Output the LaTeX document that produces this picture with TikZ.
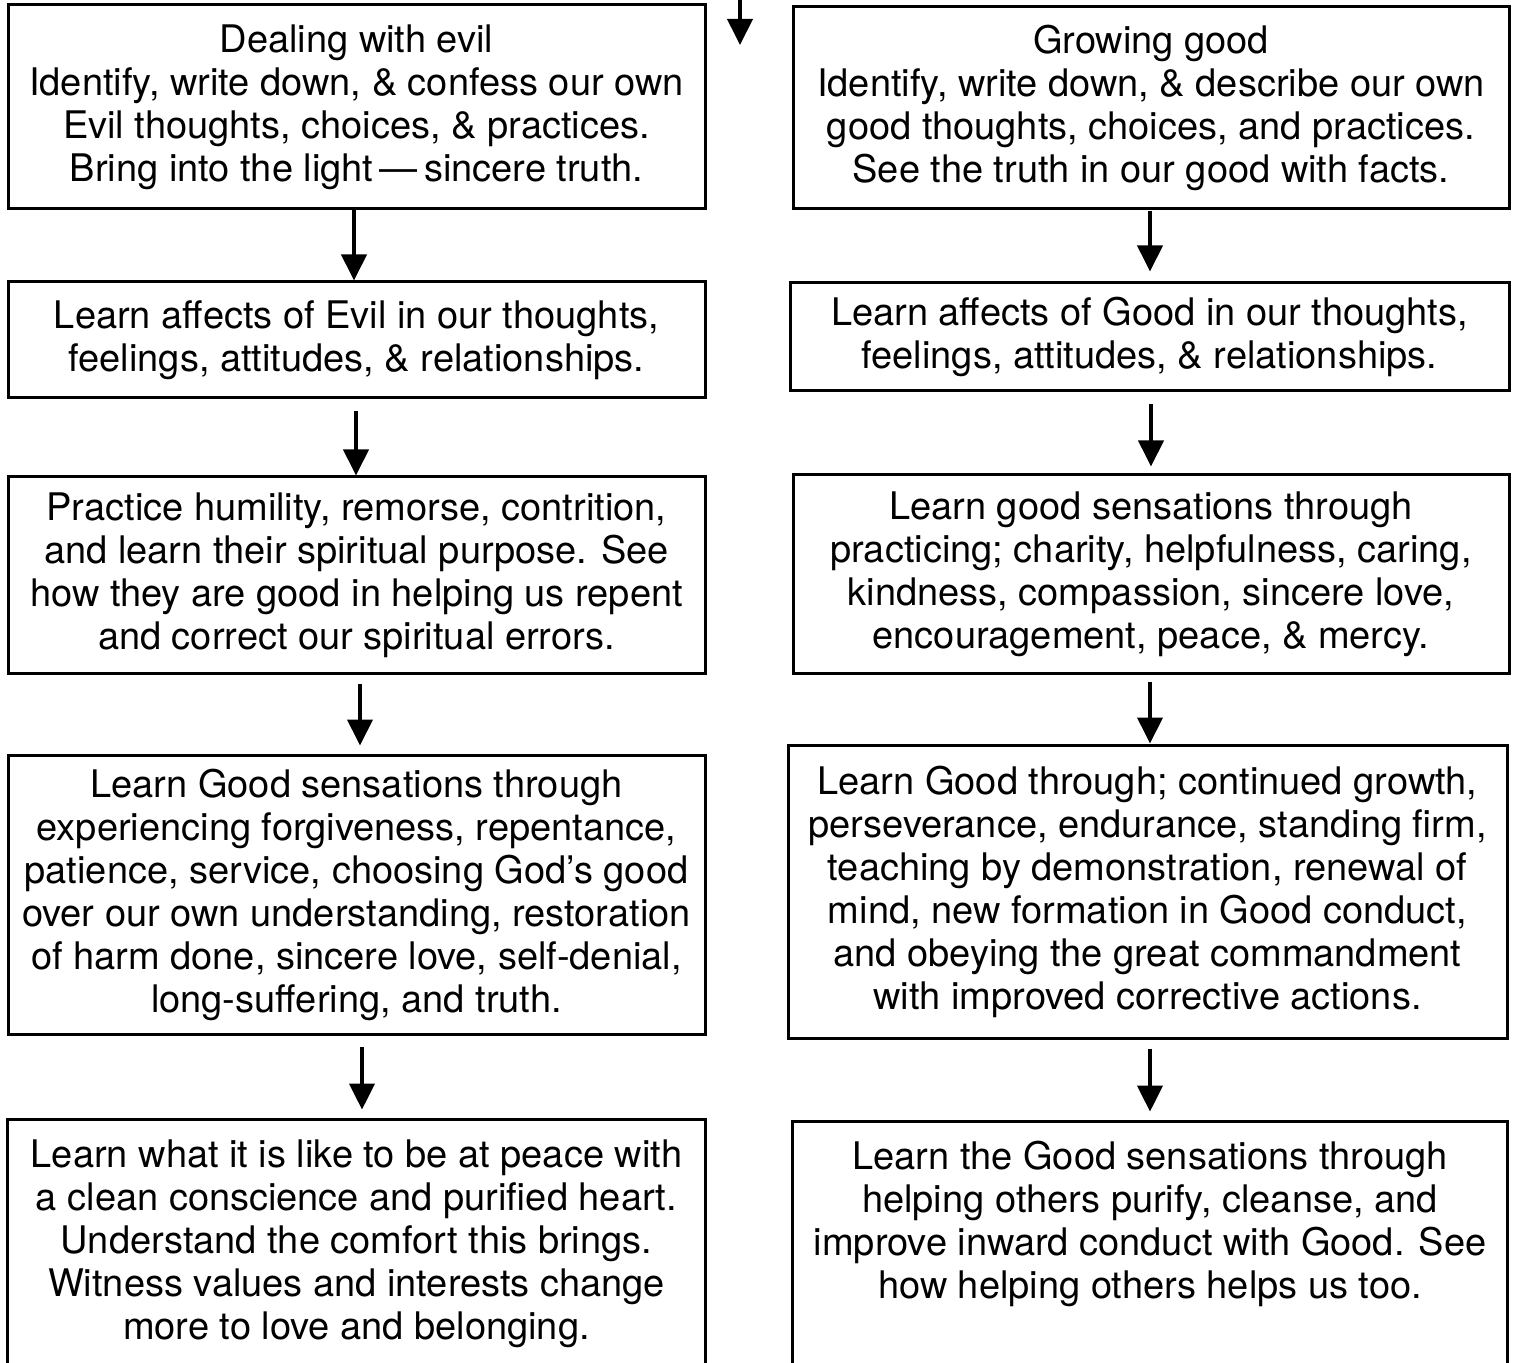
\documentclass[tikz,border=0pt]{standalone}
\usepackage{fontspec}
\setmainfont{TeX Gyre Heros}
\usetikzlibrary{arrows.meta,calc}
\begin{document}
\begin{tikzpicture}[x=0.5pt,y=-0.5pt,
  box/.style={draw,line width=1.5pt,inner sep=0pt,align=center},
  txt/.style={align=center,inner sep=0pt,font=\fontsize{19pt}{21.5pt}\selectfont},
  arr/.style={line width=2pt,-{Triangle[width=12.5pt,length=13pt]}}]
\clip (0,0) rectangle (1515,1363);
\fill[white] (0,0) rectangle (1515,1363);
% left column
\node[box,txt,minimum width=348.5pt,minimum height=102pt] (L1) at (356.5,107) {Dealing with evil\\Identify, write down, \& confess our own\\Evil thoughts, choices, \& practices.\\Bring into the light\,—\,sincere truth.};
\node[box,txt,minimum width=348.5pt,minimum height=58pt] (L2) at (356.5,340) {Learn affects of Evil in our thoughts,\\feelings, attitudes, \& relationships.};
\node[box,txt,minimum width=348.5pt,minimum height=98pt] (L3) at (356.5,575) {Practice humility, remorse, contrition,\\and learn their spiritual purpose. See\\how they are good in helping us repent\\and correct our spiritual errors.};
\node[box,txt,minimum width=348.5pt,minimum height=139.5pt] (L4) at (356.5,894.5) {Learn Good sensations through\\experiencing forgiveness, repentance,\\patience, service, choosing God’s good\\over our own understanding, restoration\\of harm done, sincere love, self-denial,\\long-suffering, and truth.};
\node[inner sep=0pt,minimum width=348.5pt,minimum height=150pt] (L5) at (356.5,1270) {};
\draw[line width=1.5pt] (L5.south west) -- (L5.north west) -- (L5.north east) -- (L5.south east);
\node[txt] (L5t) at (356.5,1244) {Learn what it is like to be at peace with\\a clean conscience and purified heart.\\Understand the comfort this brings.\\Witness values and interests change\\more to love and belonging.};
% right column
\node[box,txt,minimum width=358pt,minimum height=101pt] (R1) at (1151,108) {Growing good\\Identify, write down, \& describe our own\\good thoughts, choices, and practices.\\See the truth in our good with facts.};
\node[box,txt,minimum width=359.5pt,minimum height=54pt] (R2) at (1149.5,337) {Learn affects of Good in our thoughts,\\feelings, attitudes, \& relationships.};
\node[box,txt,minimum width=358pt,minimum height=99pt] (R3) at (1151,574) {Learn good sensations through\\practicing; charity, helpfulness, caring,\\kindness, compassion, sincere love,\\encouragement, peace, \& mercy.};
\node[box,txt,minimum width=359.5pt,minimum height=146.5pt] (R4) at (1147.5,891.5) {Learn Good through; continued growth,\\perseverance, endurance, standing firm,\\teaching by demonstration, renewal of\\mind, new formation in Good conduct,\\and obeying the great commandment\\with improved corrective actions.};
\node[inner sep=0pt,minimum width=357pt,minimum height=150pt] (R5) at (1150,1272) {};
\draw[line width=1.5pt] (R5.south west) -- (R5.north west) -- (R5.north east) -- (R5.south east);
\node[txt] (R5t) at (1150,1224) {Learn the Good sensations through\\helping others purify, cleanse, and\\improve inward conduct with Good. See\\how helping others helps us too.};
% arrows
\coordinate (top) at (740,-10);
\coordinate (topend) at (740,45);
\draw[arr] (top) -- (topend);
\draw[arr] ($(L1.south)+(-2.5,0)$) -- ($(L1.south |- L2.north)+(-2.5,0)$);
\draw[arr] ($(L2.south)+(-0.5,12)$) -- ($(L2.south |- L3.north)+(-0.5,0)$);
\draw[arr] ($(L3.south)+(3.5,9)$) -- ($(L3.south |- L4.north)+(3.5,-8)$);
\draw[arr] ($(L4.south)+(5.5,11)$) -- ($(L4.south |- L5.north)+(5.5,-10)$);
\draw[arr] ($(R1.south)+(-1,1)$) -- ($(R1.south |- R2.north)+(-1,-10)$);
\draw[arr] ($(R2.south)+(1.5,12)$) -- ($(R2.south |- R3.north)+(1.5,-7)$);
\draw[arr] ($(R3.south)+(-1,7)$) -- ($(R3.south |- R4.north)+(-1,0)$);
\draw[arr] ($(R4.south)+(2.5,9)$) -- ($(R4.south |- R5.north)+(2.5,-10)$);
\end{tikzpicture}
\end{document}
